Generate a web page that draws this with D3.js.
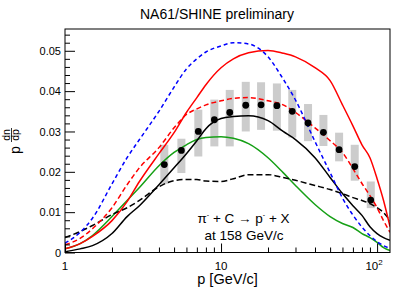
<!DOCTYPE html>
<html>
<head>
<meta charset="utf-8">
<script src="https://cdn.jsdelivr.net/npm/d3@7"></script>
<style>
body { margin: 0; background: #fff; }
text { font-family: "Liberation Sans", Arial, sans-serif; fill: #000; }
</style>
</head>
<body>
<div id="chart-area"></div>
<script>
let width = 407,
height = 295;

// momentum grid shared by the model curves (GeV/c)
let pGrid = [1, 1.25, 1.5, 2, 2.5, 3, 4, 5, 6, 7, 8, 10, 12, 15, 20, 25, 30, 40, 50, 60, 70, 80, 90, 100, 110, 121];

// model curves, p dn/dp
let blueDashed = [0.0023, 0.0050, 0.0085, 0.0170, 0.0235, 0.0280, 0.0350, 0.0410, 0.0455, 0.0480, 0.0497, 0.0512, 0.0520, 0.0517, 0.0485, 0.0430, 0.0378, 0.0275, 0.0198, 0.0135, 0.0093, 0.0063, 0.0042, 0.0027, 0.0017, 0.0010];
let redSolid = [0.0009, 0.0022, 0.0040, 0.0079, 0.0126, 0.0176, 0.0245, 0.0297, 0.0347, 0.0384, 0.0416, 0.0458, 0.0480, 0.0495, 0.0501, 0.0494, 0.0485, 0.0458, 0.0426, 0.0366, 0.0314, 0.0267, 0.0235, 0.0183, 0.0129, 0.0064];
let redDashed = [0.0019, 0.0035, 0.0059, 0.0111, 0.0168, 0.0210, 0.0260, 0.0309, 0.0342, 0.0356, 0.0366, 0.0376, 0.0382, 0.0384, 0.0376, 0.0366, 0.0347, 0.0309, 0.0277, 0.0248, 0.0208, 0.0171, 0.0141, 0.0111, 0.0079, 0.0050];
let blackSolid = [0.0002, 0.0009, 0.0017, 0.0047, 0.0089, 0.0116, 0.0168, 0.0210, 0.0245, 0.0277, 0.0307, 0.0332, 0.0337, 0.0339, 0.0327, 0.0300, 0.0280, 0.0235, 0.0186, 0.0146, 0.0116, 0.0092, 0.0064, 0.0047, 0.0037, 0.0030];
let greenSolid = [0.0009, 0.0022, 0.0042, 0.0089, 0.0129, 0.0161, 0.0215, 0.0248, 0.0267, 0.0280, 0.0285, 0.0287, 0.0283, 0.0270, 0.0235, 0.0198, 0.0166, 0.0119, 0.0089, 0.0072, 0.0062, 0.0047, 0.0037, 0.0025, 0.0012, 0.0005];
let blackDashed = [0.0037, 0.0052, 0.0067, 0.0094, 0.0111, 0.0129, 0.0163, 0.0178, 0.0181, 0.0181, 0.0177, 0.0176, 0.0183, 0.0193, 0.0193, 0.0186, 0.0179, 0.0166, 0.0156, 0.0146, 0.0136, 0.0129, 0.0121, 0.0111, 0.0099, 0.0079];

// measured points with systematic band
let pData = [4.33, 5.57, 7.15, 9.06, 11.37, 14.4, 18.05, 22.8, 28.6, 36.1, 45.3, 57.1, 71.9, 91.1];
let yData = [0.0218, 0.0253, 0.0300, 0.0329, 0.0347, 0.0365, 0.0366, 0.0364, 0.0350, 0.0321, 0.0298, 0.0255, 0.0213, 0.0130];
let sysLow = [0.0170, 0.0197, 0.0238, 0.0263, 0.0263, 0.0300, 0.0304, 0.0302, 0.0285, 0.0276, 0.0264, 0.0226, 0.0178, 0.0110];
let sysHigh = [0.0267, 0.0282, 0.0354, 0.0379, 0.0403, 0.0423, 0.0422, 0.0419, 0.0403, 0.0368, 0.0341, 0.0297, 0.0267, 0.0176];

let yMajor = [0, 0.01, 0.02, 0.03, 0.04, 0.05];
let xMajor = [1, 10, 100];

let svg = d3.select("#chart-area").append("svg")
	.attr("width", width)
	.attr("height", height);

let x = d3.scaleLog().domain([1, 121]).range([65, 390]);
let y = d3.scaleLinear().domain([0, 0.0554]).range([252.5, 29]);

svg.append("clipPath").attr("id", "frame-clip")
	.append("rect")
	.attr("x", 65).attr("y", 29)
	.attr("width", 325).attr("height", 223.5);

let plot = svg.append("g").attr("clip-path", "url(#frame-clip)");

// systematic boxes
plot.selectAll(".sys")
	.data(pData)
	.enter()
	.append("rect")
	.attr("class", "sys")
	.attr("x", d => x(d) - 4)
	.attr("width", 8)
	.attr("y", (d, i) => y(sysHigh[i]))
	.attr("height", (d, i) => y(sysLow[i]) - y(sysHigh[i]))
	.attr("fill", "#cccccc");

let line = d3.line()
	.x((d, i) => x(pGrid[i]))
	.y(d => y(d))
	.curve(d3.curveMonotoneX);

let curves = [
	{ vals: greenSolid, color: "#16a016", dash: null },
	{ vals: blackDashed, color: "#000", dash: "6,3" },
	{ vals: blackSolid, color: "#000", dash: null },
	{ vals: redDashed, color: "#ff0000", dash: "5,3" },
	{ vals: redSolid, color: "#ff0000", dash: null },
	{ vals: blueDashed, color: "#0000ff", dash: "4,3" }
];

plot.selectAll(".curve")
	.data(curves)
	.enter()
	.append("path")
	.attr("class", "curve")
	.attr("d", d => line(d.vals))
	.attr("fill", "none")
	.attr("stroke", d => d.color)
	.attr("stroke-width", 1.5)
	.attr("stroke-dasharray", d => d.dash);

// data points
plot.selectAll(".pt")
	.data(pData)
	.enter()
	.append("circle")
	.attr("class", "pt")
	.attr("cx", d => x(d))
	.attr("cy", (d, i) => y(yData[i]))
	.attr("r", 3.4)
	.attr("fill", "#000");

// axes (ticks inside the frame, ROOT style)
let yMinor = d3.range(0, 0.0555, 0.002).filter(v => yMajor.every(m => Math.abs(m - v) > 1e-6));
let xMinor = [2, 3, 4, 5, 6, 7, 8, 9, 20, 30, 40, 50, 60, 70, 80, 90];

let yAxis = svg.append("g")
	.attr("transform", "translate(65,0)")
	.call(d3.axisLeft(y).tickValues(yMajor).tickSize(-10).tickPadding(4)
		.tickFormat(d => d === 0 ? "0" : d3.format(".2f")(d)));
svg.append("g")
	.attr("transform", "translate(65,0)")
	.call(d3.axisLeft(y).tickValues(yMinor).tickSize(-5).tickFormat(""));

svg.append("g")
	.attr("transform", "translate(0,252.5)")
	.call(d3.axisBottom(x).tickValues(xMajor).tickSize(-9).tickFormat(""));
svg.append("g")
	.attr("transform", "translate(0,252.5)")
	.call(d3.axisBottom(x).tickValues(xMinor).tickSize(-5).tickFormat(""));

svg.selectAll(".domain").remove();
svg.selectAll(".tick line").attr("stroke", "#000");
yAxis.selectAll("text").attr("font-size", 11).attr("font-family", "Liberation Sans, Arial, sans-serif");

// x tick labels
let xl = svg.append("g").attr("font-size", 11.5);
xl.append("text").attr("x", x(1)).attr("y", 270).attr("text-anchor", "middle").text("1");
xl.append("text").attr("x", x(10)).attr("y", 270).attr("text-anchor", "middle").text("10");
let t100 = xl.append("text").attr("x", x(100) - 3).attr("y", 270).attr("text-anchor", "middle");
t100.append("tspan").text("10");
t100.append("tspan").attr("font-size", 8).attr("dy", -5).text("2");

// frame
svg.append("rect")
	.attr("x", 65).attr("y", 29)
	.attr("width", 325).attr("height", 223.5)
	.attr("fill", "none")
	.attr("stroke", "#000")
	.attr("stroke-width", 1);

// title
svg.append("text")
	.attr("x", 217).attr("y", 18.5)
	.attr("text-anchor", "middle")
	.attr("font-size", 14)
	.text("NA61/SHINE preliminary");

// x title
svg.append("text")
	.attr("x", 227.5).attr("y", 284)
	.attr("text-anchor", "middle")
	.attr("font-size", 14.5)
	.text("p [GeV/c]");

// y title: p dn/dp, rotated
let yt = svg.append("g").attr("transform", "translate(17,140) rotate(-90)");
yt.append("text").attr("x", -10).attr("y", 2.5).attr("text-anchor", "middle").attr("font-size", 14).text("p");
yt.append("text").attr("x", 5).attr("y", -7.5).attr("text-anchor", "middle").attr("font-size", 10.5).text("dn");
yt.append("line").attr("x1", -2).attr("x2", 12).attr("y1", -5.5).attr("y2", -5.5).attr("stroke", "#000").attr("stroke-width", 0.8);
yt.append("text").attr("x", 5).attr("y", 2).attr("text-anchor", "middle").attr("font-size", 10.5).text("dp");

// reaction annotation
let ann = svg.append("g").attr("font-size", 13.5).attr("text-anchor", "middle");
let l1 = ann.append("text").attr("x", 243.5).attr("y", 223);
l1.append("tspan").text("π");
l1.append("tspan").attr("font-size", 7).attr("dy", -6).text("-");
l1.append("tspan").attr("dy", 6).text(" + C → p");
l1.append("tspan").attr("font-size", 7).attr("dy", -6).text("-");
l1.append("tspan").attr("dy", 6).text(" + X");
ann.append("text").attr("x", 244).attr("y", 240).text("at 158 GeV/c");
</script>
</body>
</html>
